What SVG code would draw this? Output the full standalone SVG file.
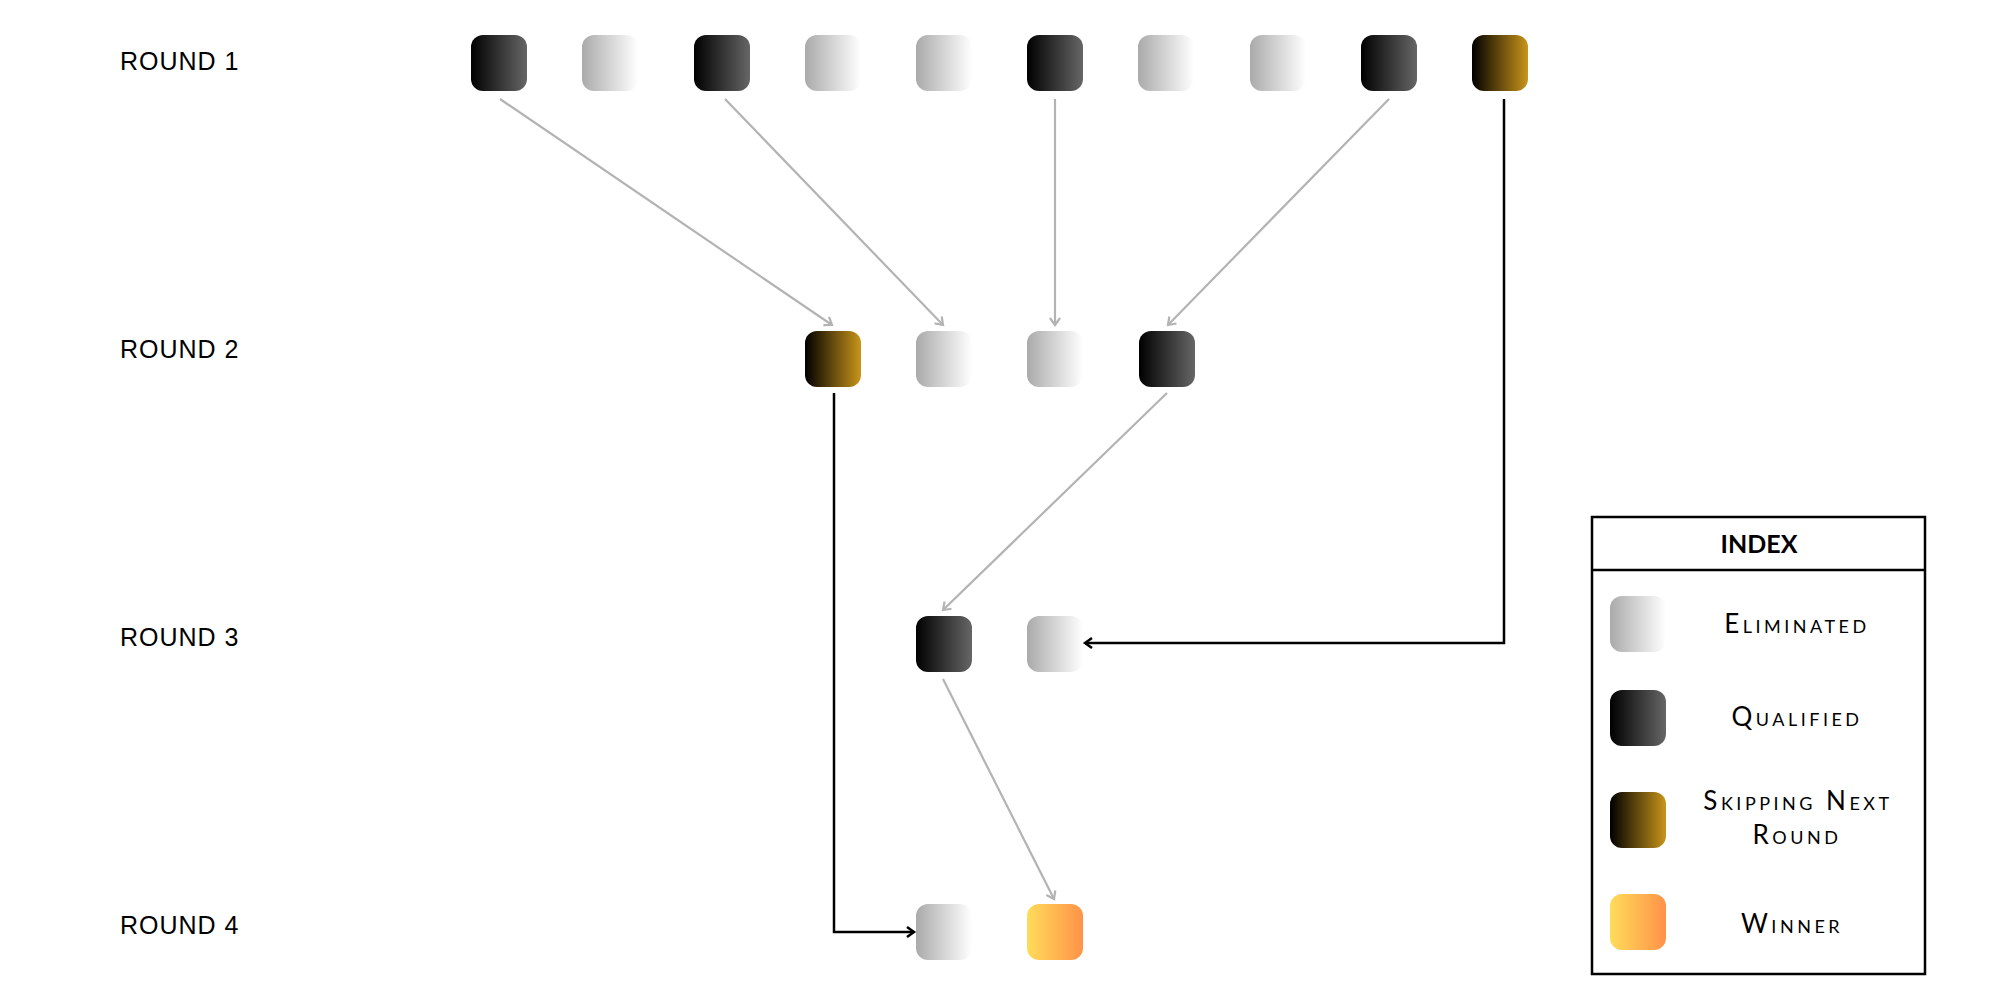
<svg xmlns="http://www.w3.org/2000/svg" width="2000" height="1000" viewBox="0 0 2000 1000">
<style>
.round{font-family:"Liberation Sans",Arial,sans-serif;font-size:25px;letter-spacing:1px;fill:#000}
.node{stroke:none}
.gray{fill:none;stroke:#b3b3b3;stroke-width:2.2}
.black{fill:none;stroke:#000;stroke-width:2.5}
.legend-title{font-family:Lato,"Noto Sans",sans-serif;font-size:25px;font-weight:bold;fill:#000;text-anchor:middle}
.legend-text{font-family:Lato,"Noto Sans",sans-serif;font-size:26px;font-variant:small-caps;letter-spacing:3.5px;fill:#000;text-anchor:middle}
</style>
<defs>
<linearGradient id="gElim" x1="0" y1="0" x2="1" y2="0"><stop offset="0" stop-color="#aaaaaa"/><stop offset="1" stop-color="#ffffff"/></linearGradient>
<linearGradient id="gQual" x1="0" y1="0" x2="1" y2="0"><stop offset="0" stop-color="#000000"/><stop offset="1" stop-color="#666666"/></linearGradient>
<linearGradient id="gSkip" x1="0" y1="0" x2="1" y2="0"><stop offset="0" stop-color="#000000"/><stop offset="1" stop-color="#c9951a"/></linearGradient>
<linearGradient id="gWin" x1="0" y1="0" x2="1" y2="0"><stop offset="0" stop-color="#ffdc5a"/><stop offset="1" stop-color="#ff9248"/></linearGradient>
<marker id="arrGray" markerUnits="userSpaceOnUse" markerWidth="14" markerHeight="14" viewBox="0 0 14 14" refX="9" refY="7" orient="auto">
<path d="M2,2 L9,7 L2,12" fill="none" stroke="#b3b3b3" stroke-width="2.2"/>
</marker>
<marker id="arrBlack" markerUnits="userSpaceOnUse" markerWidth="14" markerHeight="14" viewBox="0 0 14 14" refX="9" refY="7" orient="auto">
<path d="M2,2 L9,7 L2,12" fill="none" stroke="#000" stroke-width="2.5"/>
</marker>
</defs>
<rect width="2000" height="1000" fill="#fff"/>

<g id="labels">
<text class="round" x="120" y="70">ROUND 1</text>
<text class="round" x="120" y="358">ROUND 2</text>
<text class="round" x="120" y="646">ROUND 3</text>
<text class="round" x="120" y="934">ROUND 4</text>
</g>

<g id="connectors">
<line class="gray" x1="500" y1="99" x2="832" y2="325" marker-end="url(#arrGray)"/>
<line class="gray" x1="725" y1="99" x2="943" y2="325" marker-end="url(#arrGray)"/>
<line class="gray" x1="1055" y1="99" x2="1055" y2="325" marker-end="url(#arrGray)"/>
<line class="gray" x1="1389" y1="99" x2="1168" y2="325" marker-end="url(#arrGray)"/>
<line class="gray" x1="1167" y1="393" x2="943" y2="610" marker-end="url(#arrGray)"/>
<line class="gray" x1="943" y1="679" x2="1054" y2="899" marker-end="url(#arrGray)"/>
<polyline class="black" points="1504,99 1504,643 1085,643" marker-end="url(#arrBlack)"/>
<polyline class="black" points="834,393 834,932 914,932" marker-end="url(#arrBlack)"/>
</g>

<g id="r1n1"><rect class="node" x="471" y="35" width="56" height="56" rx="12" fill="url(#gQual)"/></g>
<g id="r1n2"><rect class="node" x="582" y="35" width="56" height="56" rx="12" fill="url(#gElim)"/></g>
<g id="r1n3"><rect class="node" x="694" y="35" width="56" height="56" rx="12" fill="url(#gQual)"/></g>
<g id="r1n4"><rect class="node" x="805" y="35" width="56" height="56" rx="12" fill="url(#gElim)"/></g>
<g id="r1n5"><rect class="node" x="916" y="35" width="56" height="56" rx="12" fill="url(#gElim)"/></g>
<g id="r1n6"><rect class="node" x="1027" y="35" width="56" height="56" rx="12" fill="url(#gQual)"/></g>
<g id="r1n7"><rect class="node" x="1138" y="35" width="56" height="56" rx="12" fill="url(#gElim)"/></g>
<g id="r1n8"><rect class="node" x="1250" y="35" width="56" height="56" rx="12" fill="url(#gElim)"/></g>
<g id="r1n9"><rect class="node" x="1361" y="35" width="56" height="56" rx="12" fill="url(#gQual)"/></g>
<g id="r1n10"><rect class="node" x="1472" y="35" width="56" height="56" rx="12" fill="url(#gSkip)"/></g>

<g id="r2n1"><rect class="node" x="805" y="331" width="56" height="56" rx="12" fill="url(#gSkip)"/></g>
<g id="r2n2"><rect class="node" x="916" y="331" width="56" height="56" rx="12" fill="url(#gElim)"/></g>
<g id="r2n3"><rect class="node" x="1027" y="331" width="56" height="56" rx="12" fill="url(#gElim)"/></g>
<g id="r2n4"><rect class="node" x="1139" y="331" width="56" height="56" rx="12" fill="url(#gQual)"/></g>

<g id="r3n1"><rect class="node" x="916" y="616" width="56" height="56" rx="12" fill="url(#gQual)"/></g>
<g id="r3n2"><rect class="node" x="1027" y="616" width="56" height="56" rx="12" fill="url(#gElim)"/></g>

<g id="r4n1"><rect class="node" x="916" y="904" width="56" height="56" rx="12" fill="url(#gElim)"/></g>
<g id="r4n2"><rect class="node" x="1027" y="904" width="56" height="56" rx="12" fill="url(#gWin)"/></g>

<g id="legend">
<rect x="1592" y="517" width="333" height="457" fill="#fff" stroke="#000" stroke-width="2.5"/>
<line x1="1592" y1="570" x2="1925" y2="570" stroke="#000" stroke-width="2.5"/>
<text class="legend-title" x="1759" y="553">INDEX</text>
<rect x="1610" y="596" width="56" height="56" rx="12" fill="url(#gElim)"/>
<text class="legend-text" x="1797" y="633">Eliminated</text>
<rect x="1610" y="690" width="56" height="56" rx="12" fill="url(#gQual)"/>
<text class="legend-text" x="1797" y="726">Qualified</text>
<rect x="1610" y="792" width="56" height="56" rx="12" fill="url(#gSkip)"/>
<text class="legend-text" x="1798" y="810">Skipping Next</text>
<text class="legend-text" x="1797" y="844">Round</text>
<rect x="1610" y="894" width="56" height="56" rx="12" fill="url(#gWin)"/>
<text class="legend-text" x="1792" y="933">Winner</text>
</g>
</svg>
